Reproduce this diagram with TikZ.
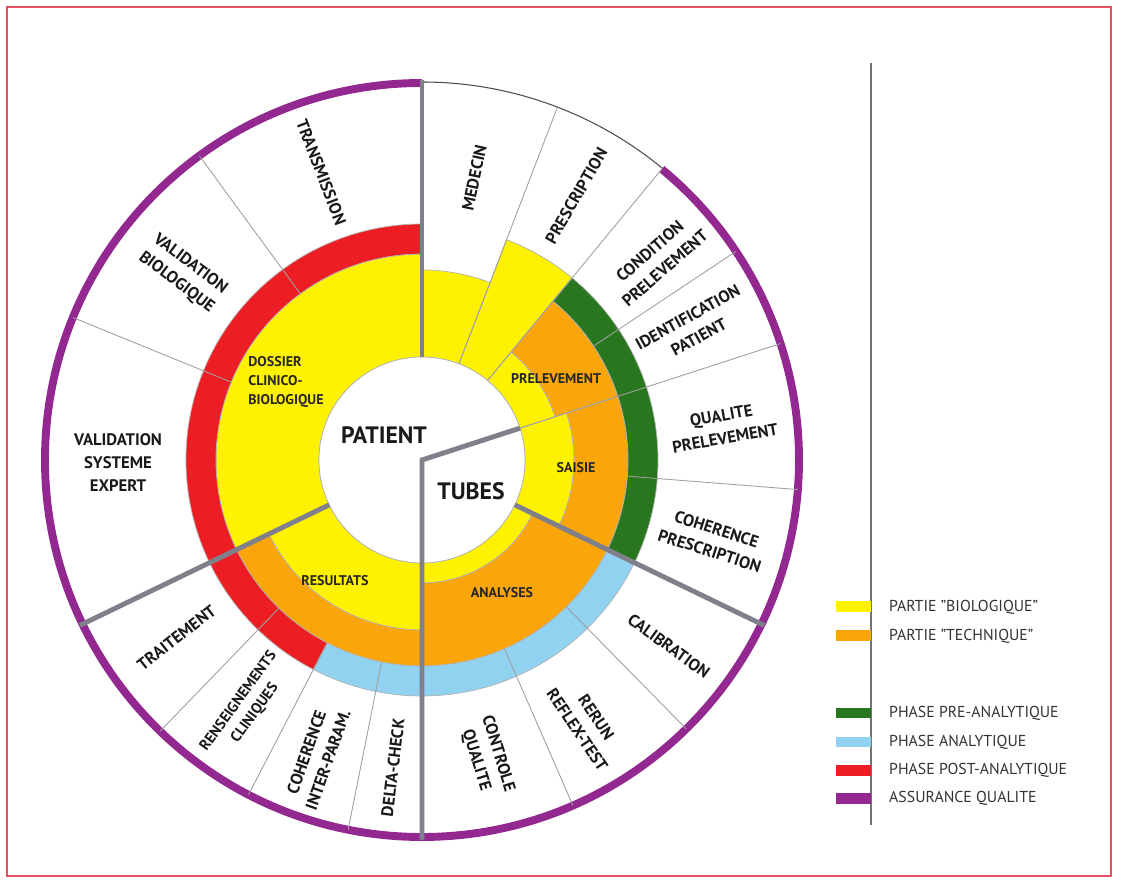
\documentclass[tikz,border=0pt]{standalone}
\usepackage{fontspec}
\setmainfont{PT Sans}
\usetikzlibrary{positioning}
\definecolor{bioyellow}{RGB}{255,242,0}
\definecolor{techorange}{RGB}{250,166,10}
\definecolor{preanagreen}{RGB}{40,118,30}
\definecolor{anablue}{RGB}{145,210,240}
\definecolor{postred}{RGB}{236,30,36}
\definecolor{qualpurple}{RGB}{148,40,145}
\definecolor{sepgrey}{RGB}{128,128,138}
\definecolor{framered}{RGB}{228,80,100}
\tikzstyle{outlabel} = [font=\bfseries\fontsize{9.5}{13}\selectfont, align=center, inner sep=0pt, text=black!90]
\tikzstyle{inlabel} = [font=\bfseries\fontsize{8}{10.8}\selectfont, align=center, inner sep=0pt, text=black!85]
\tikzstyle{hublabel} = [font=\bfseries\fontsize{13.5}{16}\selectfont, inner sep=0pt, text=black!90]
\tikzstyle{swatch} = [rectangle, minimum width=0.7cm, minimum height=0.22cm, inner sep=0pt]
\tikzstyle{legtext} = [font=\fontsize{9}{11}\selectfont, text=black!80, inner sep=0pt]
\tikzstyle{thinsep} = [draw=gray!75, line width=0.5pt]
\tikzstyle{thicksep} = [draw=sepgrey, line width=2.8pt]
\tikzstyle{zone} = [draw=gray!60, line width=0.4pt]
% annular sector: start angle, end angle, inner radius, outer radius, colour
\newcommand{\wheelband}[5]{%
  \filldraw[zone, fill=#5] (#1:#3) arc[start angle=#1, end angle=#2, radius=#3]
    -- (#2:#4) arc[start angle=#2, end angle=#1, radius=#4] -- cycle;}

\begin{document}
\begin{tikzpicture}[x=0.02cm, y=0.02cm]
    \useasboundingbox (-422,-421) rectangle (699,460);
    \draw[framered, line width=0.9pt] (-415,453) rectangle (689,-416);
    \coordinate (hub) at (0,0);

    % inner parts
    \wheelband{90}{205.8}{103}{206}{bioyellow}
    \wheelband{205.8}{270}{103}{170}{bioyellow}
    \wheelband{205.8}{270}{170}{206}{techorange}
    \wheelband{270}{334.2}{103}{123}{bioyellow}
    \wheelband{270}{334.2}{123}{206}{techorange}
    \wheelband{334.2}{378}{103}{152}{bioyellow}
    \wheelband{334.2}{378}{152}{206}{techorange}
    \wheelband{378}{410.5}{103}{140}{bioyellow}
    \wheelband{378}{410.5}{140}{206}{techorange}
    \wheelband{410.5}{429}{103}{236}{bioyellow}
    \wheelband{429}{450}{103}{190}{bioyellow}

    % phases
    \wheelband{334.2}{410.5}{206}{236}{preanagreen}
    \wheelband{242.6}{334.2}{206}{236}{anablue}
    \wheelband{90}{242.6}{206}{236}{postred}

    \draw[zone, fill=white] (hub) circle[radius=103];

    % quality ring
    \draw[qualpurple, line width=4.5pt] (90:377) arc[start angle=90, end angle=410.5, radius=377];
    \draw[black!70, line width=0.6pt] (50.5:378) arc[start angle=50.5, end angle=90, radius=378];

    % separators
    \foreach \a in {33.6,-4.5,-45.5,-66.4,258.7,242.6,226,157.8,126.2}
        \draw[thinsep] (\a:206) -- (\a:377);
    \foreach \a in {69,50.5,18}
        \draw[thinsep] (\a:103) -- (\a:377);
    \foreach \a in {90,334.2,205.8}
        \draw[thicksep] (\a:103) -- (\a:380);
    \draw[thicksep, line join=miter] (18:103) -- (hub) -- (270:380);

    % outer labels
    \node (medecin) [outlabel, rotate=78] at (79.5:287) {MEDECIN};
    \node (prescr) [outlabel, rotate=60] at (59.7:306) {PRESCRIPTION};
    \node (condprel) [outlabel, rotate=41] at (40.4:309) {CONDITION\\PRELEVEMENT};
    \node (identpat) [outlabel, rotate=29] at (26.1:302) {IDENTIFICATION\\PATIENT};
    \node (qualprel) [outlabel, rotate=10] at (6.3:303) {QUALITE\\PRELEVEMENT};
    \node (cohprescr) [outlabel, rotate=-18] at (-15.4:302) {COHERENCE\\PRESCRIPTION};
    \node (calib) [outlabel, rotate=-36] at (-37:309) {CALIBRATION};
    \node (rerun) [outlabel, rotate=-56] at (-58:311) {RERUN\\REFLEX-TEST};
    \node (ctrlqual) [outlabel, rotate=-73] at (-77.7:304) {CONTROLE\\QUALITE};
    \node (delta) [outlabel, rotate=83] at (264.6:309) {DELTA-CHECK};
    \node (cohinter) [outlabel, rotate=70.5] at (250.5:314) {COHERENCE\\INTER-PARAM.};
    \node (renseign) [outlabel, rotate=54, font=\bfseries\fontsize{8.5}{11.5}\selectfont] at (234.7:303) {RENSEIGNEMENTS\\CLINIQUES};
    \node (traitement) [outlabel, rotate=38] at (215.9:303) {TRAITEMENT};
    \node (valsyst) [outlabel] at (180.5:304) {VALIDATION\\SYSTEME\\EXPERT};
    \node (valbio) [outlabel, rotate=-37] at (142:303) {VALIDATION\\BIOLOGIQUE};
    \node (transm) [outlabel, rotate=-69] at (109.3:305) {TRANSMISSION};

    % inner labels
    \node (dossier) [inlabel, align=left] at (-136,78) {DOSSIER\\CLINICO-\\BIOLOGIQUE};
    \node (prelev) [inlabel] at (134,81) {PRELEVEMENT};
    \node (saisie) [inlabel] at (154,-8) {SAISIE};
    \node (analyses) [inlabel] at (80,-133) {ANALYSES};
    \node (resultats) [inlabel] at (-87,-121) {RESULTATS};
    \node (patient) [hublabel] at (-38,25) {PATIENT};
    \node (tubes) [hublabel] at (49,-31) {TUBES};

    % legend
    \coordinate (legTop) at (449,397);
    \coordinate (legBot) at (449,-365);
    \draw[gray!90!black, line width=0.8pt] (legTop) -- (legBot);
    \node (swBio) [swatch, fill=bioyellow] at (431,-147) {};
    \node (swTech) [swatch, fill=techorange] at (431,-176) {};
    \node (swPre) [swatch, fill=preanagreen] at (431,-253) {};
    \node (swAna) [swatch, fill=anablue] at (431,-282) {};
    \node (swPost) [swatch, fill=postred] at (431,-310) {};
    \node (swQual) [swatch, fill=qualpurple] at (431,-338) {};
    \node (txtBio) [legtext, right=0.36cm of swBio] {PARTIE "BIOLOGIQUE"};
    \node (txtTech) [legtext, right=0.36cm of swTech] {PARTIE "TECHNIQUE"};
    \node (txtPre) [legtext, right=0.36cm of swPre] {PHASE PRE-ANALYTIQUE};
    \node (txtAna) [legtext, right=0.36cm of swAna] {PHASE ANALYTIQUE};
    \node (txtPost) [legtext, right=0.36cm of swPost] {PHASE POST-ANALYTIQUE};
    \node (txtQual) [legtext, right=0.36cm of swQual] {ASSURANCE QUALITE};
\end{tikzpicture}
\end{document}
